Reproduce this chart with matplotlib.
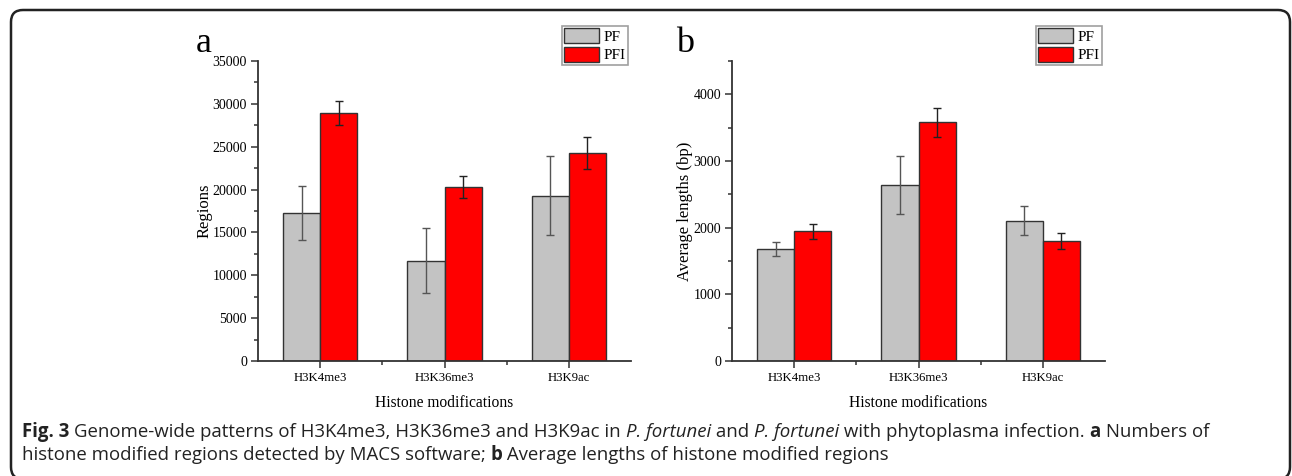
import numpy as np
import matplotlib
matplotlib.use('Agg')
import matplotlib.pyplot as plt
from matplotlib.patches import FancyBboxPatch
from matplotlib.transforms import IdentityTransform
from matplotlib.ticker import MultipleLocator, FixedLocator

# data
categories = ['H3K4me3', 'H3K36me3', 'H3K9ac']
series = ['PF', 'PFI']

pf_regions = [17300, 11700, 19300]
pf_regions_err = [3170, 3800, 4600]
pfi_regions = [28900, 20300, 24300]
pfi_regions_err = [1400, 1250, 1850]

pf_length = [1680, 2640, 2105]
pf_length_err = [112, 430, 215]
pfi_length = [1945, 3580, 1800]
pfi_length_err = [110, 220, 125]

W, H = 1292, 476
fig = plt.figure(figsize=(W / 100, H / 100), dpi=100)

serif = ['Liberation Serif', 'DejaVu Serif']
gray = '#c3c3c3'
red = '#ff0000'
edge = '#333333'


def panel(left, right, pf, pf_err, pfi, pfi_err, ymax, major, ylabel, letter, leg_right):
    ax = fig.add_axes([left / W, 1 - 361 / H, (right - left) / W, 300 / H])
    x = np.arange(1, len(categories) + 1)
    w = 0.3
    ax.bar(x - w / 2, pf, w, color=gray, edgecolor=edge, linewidth=1, label=series[0], zorder=2)
    ax.bar(x + w / 2, pfi, w, color=red, edgecolor=edge, linewidth=1, label=series[1], zorder=2)
    ax.errorbar(x - w / 2, pf, yerr=pf_err, fmt='none', ecolor='#555555', elinewidth=1,
                capsize=3, capthick=1, zorder=3)
    ax.errorbar(x + w / 2, pfi, yerr=pfi_err, fmt='none', ecolor='#222222', elinewidth=1,
                capsize=3, capthick=1, zorder=3)
    ax.set_xlim(0.5, 3.5)
    ax.set_ylim(0, ymax)
    ax.set_xticks(x)
    ax.set_xticklabels(categories, family=serif, fontsize=9.2)
    ax.xaxis.set_minor_locator(FixedLocator([1.5, 2.5]))
    ax.yaxis.set_major_locator(MultipleLocator(major))
    ax.yaxis.set_minor_locator(MultipleLocator(major / 2))
    for lab in ax.get_yticklabels():
        lab.set_family(serif)
        lab.set_fontsize(10)
    ax.tick_params(which='major', direction='out', length=5, width=1.1, color=edge, pad=3)
    ax.tick_params(which='minor', direction='out', length=3, width=1.1, color=edge)
    ax.tick_params(axis='y', which='both', right=False)
    for s in ['top', 'right']:
        ax.spines[s].set_visible(False)
    for s in ['left', 'bottom']:
        ax.spines[s].set_linewidth(1.3)
        ax.spines[s].set_color(edge)
    ax.set_xlabel('Histone modifications', family=serif, fontsize=11.2, labelpad=8)
    ax.set_ylabel(ylabel, family=serif, fontsize=12, labelpad=0)
    leg = ax.legend(loc='upper right', bbox_to_anchor=(leg_right / W, 1 - 26 / H),
                    bbox_transform=fig.transFigure, borderaxespad=0, fancybox=False,
                    handlelength=2.3, handleheight=1.1, handletextpad=0.3,
                    borderpad=0.15, labelspacing=0.2, prop={'family': serif, 'size': 11})
    leg.get_frame().set_edgecolor('#888888')
    leg.get_frame().set_linewidth(1.2)
    fig.text(letter[0] / W, 1 - letter[1] / H, letter[2], family=serif, fontsize=26,
             ha='left', va='baseline')
    return ax


panel(258, 631, pf_regions, pf_regions_err, pfi_regions, pfi_regions_err,
      35000, 5000, 'Regions', (196, 52, 'a'), 628)
panel(732, 1105, pf_length, pf_length_err, pfi_length, pfi_length_err,
      4500, 1000, 'Average lengths (bp)', (676, 52, 'b'), 1102)

# rounded frame around figure
frame = FancyBboxPatch((11, -3), 1279, 469, boxstyle='round,pad=0,rounding_size=12',
                       transform=IdentityTransform(), facecolor='none',
                       edgecolor='#222222', linewidth=1.8)
fig.patches.append(frame)

# caption with mixed styles
cap_font = ['Open Sans', 'DejaVu Sans']
cap_size = 13.4
lines = [
    [('Fig. 3 ', 'bold', 'normal'),
     ('Genome-wide patterns of H3K4me3, H3K36me3 and H3K9ac in ', 'normal', 'normal'),
     ('P. fortunei', 'normal', 'italic'), (' and ', 'normal', 'normal'),
     ('P. fortunei', 'normal', 'italic'),
     (' with phytoplasma infection. ', 'normal', 'normal'),
     ('a', 'bold', 'normal'), (' Numbers of', 'normal', 'normal')],
    [('histone modified regions detected by MACS software; ', 'normal', 'normal'),
     ('b', 'bold', 'normal'),
     (' Average lengths of histone modified regions', 'normal', 'normal')],
]
baselines = [437, 460]
fig.canvas.draw()
renderer = fig.canvas.get_renderer()
for parts, yb in zip(lines, baselines):
    xp = 22
    for txt, wt, st in parts:
        t = fig.text(xp / W, 1 - yb / H, txt, family=cap_font, fontsize=cap_size,
                     weight=wt, style=st, color='#222222', ha='left', va='baseline')
        xp += t.get_window_extent(renderer).width

fig.savefig('out.png', dpi=100)
